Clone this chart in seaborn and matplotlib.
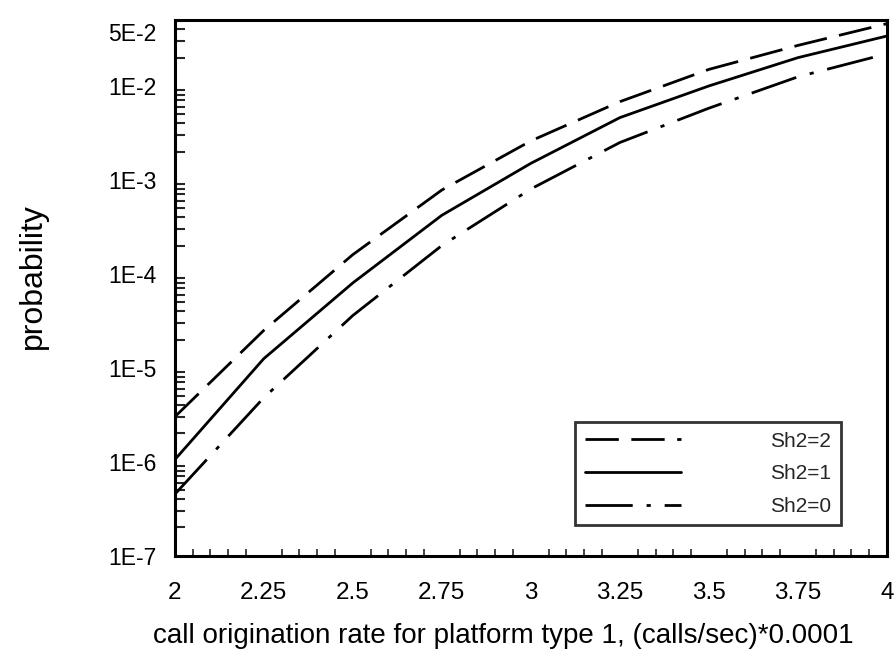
import numpy as np
import pandas as pd
import seaborn as sns
import matplotlib
matplotlib.use("Agg")
import matplotlib.pyplot as plt
import matplotlib.transforms as mtransforms
from matplotlib.ticker import FixedLocator, LogLocator, MultipleLocator, NullFormatter
from matplotlib.lines import Line2D

rate = [2.0, 2.25, 2.5, 2.75, 3.0, 3.25, 3.5, 3.75, 4.0]
sh2_2 = [3.0e-6, 2.5e-5, 1.6e-4, 7.8e-4, 2.6e-3, 6.8e-3, 1.5e-2, 2.7e-2, 4.6e-2]
sh2_1 = [1.05e-6, 1.25e-5, 8.0e-5, 4.2e-4, 1.5e-3, 4.6e-3, 1.0e-2, 2.0e-2, 3.4e-2]
sh2_0 = [4.5e-7, 4.8e-6, 3.6e-5, 2.0e-4, 8.0e-4, 2.5e-3, 5.8e-3, 1.25e-2, 2.2e-2]
labels = ["Sh2=2", "Sh2=1", "Sh2=0"]
ytick_vals = [1e-7, 1e-6, 1e-5, 1e-4, 1e-3, 1e-2, 5e-2]
ytick_labels = ["1E-7", "1E-6", "1E-5", "1E-4", "1E-3", "1E-2", "5E-2"]
xtick_vals = [2, 2.25, 2.5, 2.75, 3, 3.25, 3.5, 3.75, 4]
xtick_labels = ["2", "2.25", "2.5", "2.75", "3", "3.25", "3.5", "3.75", "4"]

df = pd.DataFrame({
    "rate": rate * 3,
    "prob": sh2_2 + sh2_1 + sh2_0,
    "series": [labels[0]] * 9 + [labels[1]] * 9 + [labels[2]] * 9,
})

sns.set_theme(style="white")
plt.rcParams["font.family"] = ["Liberation Sans", "DejaVu Sans"]

fig = plt.figure(figsize=(8.96, 6.53), dpi=100)
ax = fig.add_axes([0.195, 0.149, 0.795, 0.82])

dash_map = {labels[0]: (12, 4.5), labels[1]: "", labels[2]: (17, 5, 1.5, 5)}
sns.lineplot(data=df, x="rate", y="prob", style="series", dashes=dash_map,
             color="black", linewidth=2.0, ax=ax, legend=False)

ax.set_yscale("log")
ax.set_ylim(1e-7, 5e-2)
ax.set_xlim(2, 4)

ax.yaxis.set_major_locator(FixedLocator(ytick_vals))
ax.set_yticklabels(ytick_labels)
ax.yaxis.set_minor_locator(LogLocator(base=10, subs=np.arange(2, 10)))
ax.yaxis.set_minor_formatter(NullFormatter())
ax.set_xticks(xtick_vals)
ax.set_xticklabels(xtick_labels)
ax.xaxis.set_minor_locator(MultipleLocator(0.05))

ax.tick_params(axis="y", which="major", direction="in", length=14, width=2, pad=13, labelsize=16.5, colors="black")
ax.tick_params(axis="y", which="minor", direction="in", length=7, width=1.5, left=True)
ax.tick_params(axis="x", which="major", direction="in", length=11, width=1.5, pad=19, labelsize=17.5, colors="black")
ax.tick_params(axis="x", which="minor", direction="in", length=5, width=1.2, bottom=True)
ax.tick_params(top=False, right=False)

# top label sits a little lower than its tick, as in the reference
top_lbl = ax.get_yticklabels()[-1]
top_lbl.set_transform(top_lbl.get_transform() + mtransforms.ScaledTranslation(0, -12 / 100, fig.dpi_scale_trans))

for s in ax.spines.values():
    s.set_color("black")
    s.set_linewidth(2.2)

ax.set_xlabel("call origination rate for platform type 1, (calls/sec)*0.0001", fontsize=20, color="black")
ax.set_ylabel("probability", fontsize=23, color="black")
ax.xaxis.set_label_coords(0.462, -0.125)
ax.yaxis.set_label_coords(-0.178, 0.522)

handles = [Line2D([], [], color="black", lw=2.0, dashes=dash_map[labels[0]]),
           Line2D([], [], color="black", lw=2.0),
           Line2D([], [], color="black", lw=2.0, dashes=dash_map[labels[2]])]
leg = ax.legend(handles, labels, loc="lower right", bbox_to_anchor=(0.935, 0.057),
                fontsize=15, handlelength=4.6, handletextpad=4.3, labelspacing=0.65,
                borderpad=0.45, borderaxespad=0, fancybox=False, frameon=True)
leg.get_frame().set_edgecolor("black")
leg.get_frame().set_linewidth(2.0)

fig.savefig("out.png", dpi=100)
